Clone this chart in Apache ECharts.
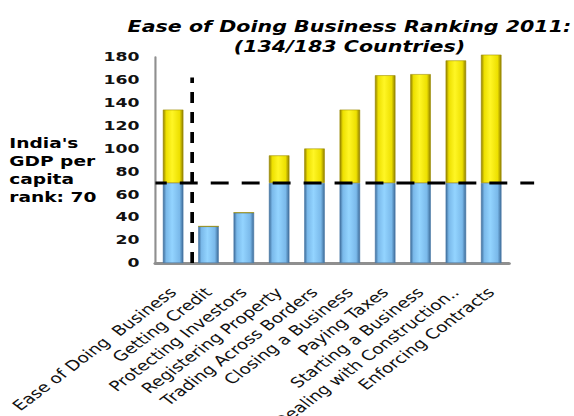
<!DOCTYPE html>
<html>
<head>
<meta charset="utf-8">
<script src="https://cdn.jsdelivr.net/npm/echarts@6/dist/echarts.min.js"></script>
<style>
  html, body { margin: 0; padding: 0; background: #fff; overflow: hidden; }
  #wrap { width: 574px; height: 416px; overflow: hidden; }
  /* The slide art is laid out in a narrower frame and stretched to the full width */
  #chart { width: 432px; height: 416px; transform: scaleX(1.3287); transform-origin: 0 0; }
</style>
</head>
<body>
<div id="wrap"><div id="chart"></div></div>
<script>
// Doing Business 2011 sub-rankings for India (out of 183 economies)
const categories = [
  'Ease of Doing  Business',
  'Getting Credit',
  'Protecting Investors',
  'Registering Property',
  'Trading Across Borders',
  'Closing a Business',
  'Paying Taxes',
  'Starting a Business',
  'Dealing with Construction..',
  'Enforcing Contracts'
];
const rankings = [134, 32, 44, 94, 100, 134, 164, 165, 177, 182];

// India's GDP per capita rank, used as the reference line
const gdpRank = 70;

// Y axis scale
const yMin = 0;
const yMax = 180;
const yStep = 20;

// Split each ranking into the part up to the GDP rank and the part above it
const belowGdp = rankings.map(v => Math.min(v, gdpRank));
const aboveGdp = rankings.map(v => Math.max(v - gdpRank, 0));

// Separator between the overall ranking and the sub-rankings (category boundary, value extent)
const separatorX = 1.04;
const separatorTop = 162;

const FONT = '"DejaVu Sans", Verdana, sans-serif';

function barGradient(edge, mid, light) {
  return new echarts.graphic.LinearGradient(0, 0, 1, 0, [
    { offset: 0, color: edge },
    { offset: 0.15, color: mid },
    { offset: 0.45, color: light },
    { offset: 0.82, color: mid },
    { offset: 1, color: edge }
  ]);
}

const chart = echarts.init(document.getElementById('chart'), null, { renderer: 'svg' });

const gridMain = { left: 117, right: 49, top: 57, bottom: 153, containLabel: false, outerBoundsMode: 'none' };
// Overlay grid for the dashed reference lines; extends a bit past the bars on the right
const gridLines = { left: 117, right: 30, top: 57, bottom: 153, containLabel: false, outerBoundsMode: 'none' };
const overlayXMax = 10.73;

chart.setOption({
  animation: false,
  backgroundColor: '#ffffff',
  title: {
    text: 'Ease of Doing Business Ranking 2011:\n(134/183 Countries)',
    left: 258,
    top: 11,
    textAlign: 'center',
    textStyle: {
      fontFamily: FONT,
      fontSize: 15.5,
      fontWeight: 'bold',
      fontStyle: 'italic',
      color: '#000',
      lineHeight: 20
    }
  },
  graphic: [{
    type: 'text',
    left: 7,
    top: 134,
    style: {
      text: "India's\nGDP per\ncapita\nrank: 70",
      font: 'bold 14px ' + FONT,
      lineHeight: 18,
      fill: '#000'
    }
  }],
  grid: [gridMain, gridLines],
  xAxis: [{
    type: 'category',
    gridIndex: 0,
    data: categories,
    axisLine: { show: true, lineStyle: { color: '#8f8f8f', width: 3 } },
    axisTick: { show: false },
    axisLabel: {
      interval: 0,
      rotate: 45,
      margin: 27,
      fontFamily: FONT,
      fontSize: 14,
      color: '#111'
    }
  }, {
    type: 'value',
    gridIndex: 1,
    min: 0,
    max: overlayXMax,
    show: false
  }],
  yAxis: [{
    type: 'value',
    gridIndex: 0,
    min: yMin,
    max: yMax,
    interval: yStep,
    axisLine: { show: true, lineStyle: { color: '#8f8f8f', width: 1.6 } },
    axisTick: { show: false },
    splitLine: { show: false },
    axisLabel: {
      margin: 12,
      fontFamily: FONT,
      fontSize: 13,
      fontWeight: 'bold',
      color: '#111'
    }
  }, {
    type: 'value',
    gridIndex: 1,
    min: yMin,
    max: yMax,
    show: false
  }],
  series: [{
    type: 'bar',
    name: 'Up to GDP rank',
    xAxisIndex: 0,
    yAxisIndex: 0,
    stack: 'rank',
    clip: false,
    barWidth: 15.5,
    data: belowGdp,
    itemStyle: {
      color: barGradient('#3d6b98', '#7ab9ea', '#93d4ff'),
      borderColor: '#4a7aa8',
      borderWidth: 0.5
    }
  }, {
    type: 'bar',
    name: 'Above GDP rank',
    xAxisIndex: 0,
    yAxisIndex: 0,
    stack: 'rank',
    clip: false,
    barWidth: 15.5,
    data: aboveGdp,
    itemStyle: {
      color: barGradient('#8f7e00', '#ede000', '#fff625'),
      borderColor: '#9c8b00',
      borderWidth: 0.5
    }
  }, {
    type: 'line',
    name: 'GDP rank',
    xAxisIndex: 1,
    yAxisIndex: 1,
    z: 5,
    symbol: 'none',
    silent: true,
    data: [[0, gdpRank], [overlayXMax, gdpRank]],
    lineStyle: { color: '#000', width: 3, type: [13.5, 9.8], dashOffset: 4.5 }
  }, {
    type: 'line',
    name: 'Separator',
    xAxisIndex: 1,
    yAxisIndex: 1,
    z: 5,
    symbol: 'none',
    silent: true,
    data: [[separatorX, yMin], [separatorX, separatorTop]],
    lineStyle: { color: '#000', width: 2.8, type: [11, 9] }
  }]
});
</script>
</body>
</html>
